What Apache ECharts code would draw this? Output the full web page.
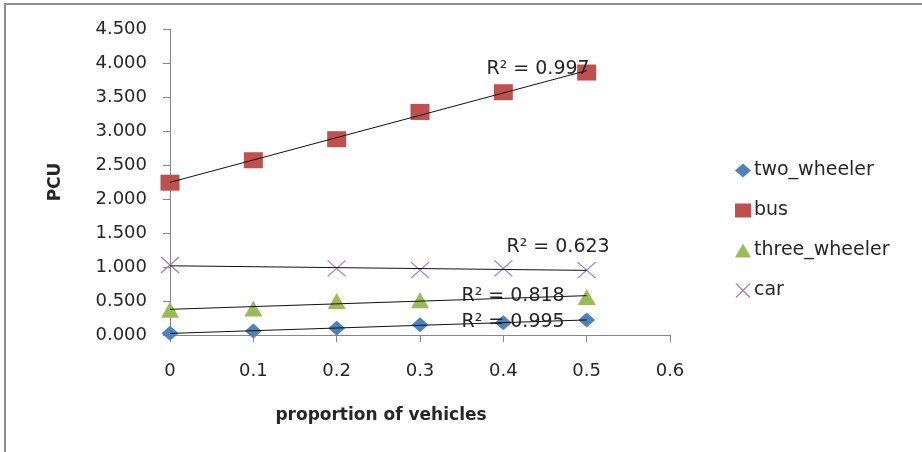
<!DOCTYPE html>
<html>
<head>
<meta charset="utf-8">
<script src="https://cdn.jsdelivr.net/npm/echarts@6/dist/echarts.min.js"></script>
<style>
  html, body { margin: 0; padding: 0; background: #fff; }
  #chart { width: 922px; height: 452px; }
</style>
</head>
<body>
<div id="chart"></div>
<script>
// proportion of vehicles (x) and PCU readings per vehicle type
const proportions = [0, 0.1, 0.2, 0.3, 0.4, 0.5];
const twoWheeler = [0.025, 0.06, 0.10, 0.15, 0.18, 0.22];
const bus = [2.24, 2.57, 2.88, 3.28, 3.57, 3.86];
const threeWheeler = [0.37, 0.39, 0.50, 0.51, null, 0.56];
const car = [1.03, null, 0.98, 0.955, 0.98, 0.955];
const rSquared = ['0.995', '0.997', '0.818', '0.623'];
const yTicks = [0, 0.5, 1, 1.5, 2, 2.5, 3, 3.5, 4, 4.5];

const FONT = 'DejaVu Sans';
const TEXT = '#262626';

// least-squares trendline, like the Excel linear trendline
function trend(values) {
  const pts = proportions.map((x, i) => [x, values[i]]).filter(p => p[1] != null);
  const n = pts.length;
  const mx = pts.reduce((s, p) => s + p[0], 0) / n;
  const my = pts.reduce((s, p) => s + p[1], 0) / n;
  let sxy = 0, sxx = 0;
  pts.forEach(([x, y]) => { sxy += (x - mx) * (y - my); sxx += (x - mx) * (x - mx); });
  const b = sxy / sxx;
  const a = my - b * mx;
  const x0 = proportions[0], x1 = proportions[proportions.length - 1];
  return [[x0, a + b * x0], [x1, a + b * x1]];
}

const pairs = (values) => proportions.map((x, i) => [x, values[i]]).filter(p => p[1] != null);

const X_ICON = 'path://M0,0L10,10M10,0L0,10';

const defs = [
  { name: 'two_wheeler', data: twoWheeler, symbol: 'diamond', size: [17, 15], color: '#4f81bd', r2: rSquared[0], offset: [-22, 2] },
  { name: 'bus', data: bus, symbol: 'rect', size: [19, 16], color: '#c0504d', r2: rSquared[1], offset: [3, -2] },
  { name: 'three_wheeler', data: threeWheeler, symbol: 'triangle', size: [18, 16], color: '#9bbb59', r2: rSquared[2], offset: [-22, 0] },
  { name: 'car', data: car, symbol: X_ICON, size: [18, 16], color: '#9a86c4', r2: rSquared[3], offset: [23, -23] },
];

const styleFor = (d) => d.symbol === X_ICON
  ? { color: 'rgba(0,0,0,0)', borderColor: d.color, borderWidth: 1.3, opacity: 1 }
  : { color: d.color, opacity: 1 };

const series = [];
defs.forEach((d) => {
  const line = trend(d.data);
  series.push({
    name: d.name + ' trend',
    type: 'line',
    data: line,
    showSymbol: false,
    silent: true,
    z: 3,
    lineStyle: { color: '#111', width: 1 },
    markPoint: {
      symbol: 'circle',
      symbolSize: 0,
      data: [{ coord: line[1] }],
      label: {
        show: true,
        formatter: 'R² = ' + d.r2,
        position: 'inside',
        align: 'right',
        verticalAlign: 'middle',
        offset: d.offset,
        fontFamily: FONT,
        fontSize: 19,
        color: TEXT,
      },
    },
  });
});
defs.forEach((d) => {
  series.push({
    name: d.name,
    type: 'scatter',
    data: pairs(d.data),
    symbol: d.symbol,
    symbolSize: d.size,
    z: 2,
    itemStyle: styleFor(d),
  });
});

const chart = echarts.init(document.getElementById('chart'));
chart.setOption({
  animation: false,
  backgroundColor: '#fff',
  graphic: [{
    type: 'rect',
    shape: { x: 5, y: 4, width: 2000, height: 2000 },
    style: { fill: 'none', stroke: '#8e8e8e', lineWidth: 2 },
    silent: true,
  }],
  grid: {
    left: 170,
    right: 252,
    top: 29,
    bottom: 117,
  },
  legend: {
    orient: 'vertical',
    left: 730,
    top: 156,
    itemGap: 21,
    itemWidth: 16,
    itemHeight: 14,
    data: defs.map(d => ({
      name: d.name,
      icon: d.symbol,
      itemStyle: styleFor(d),
    })),
    textStyle: {
      fontFamily: FONT,
      fontSize: 19,
      color: TEXT,
      padding: [0, 0, 0, -2],
    },
  },
  xAxis: {
    type: 'value',
    min: 0,
    max: 0.6,
    interval: 0.1,
    name: 'proportion of vehicles',
    nameLocation: 'middle',
    nameGap: 72,
    nameTextStyle: {
      fontFamily: FONT,
      fontSize: 17,
      fontWeight: 'bold',
      color: TEXT,
      padding: [0, 78, 0, 0],
    },
    splitLine: { show: false },
    axisLine: { lineStyle: { color: '#868686', width: 1 } },
    axisTick: { length: 7, lineStyle: { color: '#868686' } },
    axisLabel: {
      margin: 27,
      fontFamily: FONT,
      fontSize: 18,
      color: TEXT,
    },
  },
  yAxis: {
    type: 'value',
    min: yTicks[0],
    max: yTicks[yTicks.length - 1],
    interval: yTicks[1] - yTicks[0],
    name: 'PCU',
    nameLocation: 'middle',
    nameGap: 106,
    nameTextStyle: {
      fontFamily: FONT,
      fontSize: 17,
      fontWeight: 'bold',
      color: TEXT,
    },
    splitLine: { show: false },
    axisLine: { show: true, lineStyle: { color: '#868686', width: 1 } },
    axisTick: { show: true, length: 7, lineStyle: { color: '#868686' } },
    axisLabel: {
      margin: 23,
      fontFamily: FONT,
      fontSize: 18,
      color: TEXT,
      formatter: (v) => v.toFixed(3),
    },
  },
  series: series,
});
</script>
</body>
</html>
